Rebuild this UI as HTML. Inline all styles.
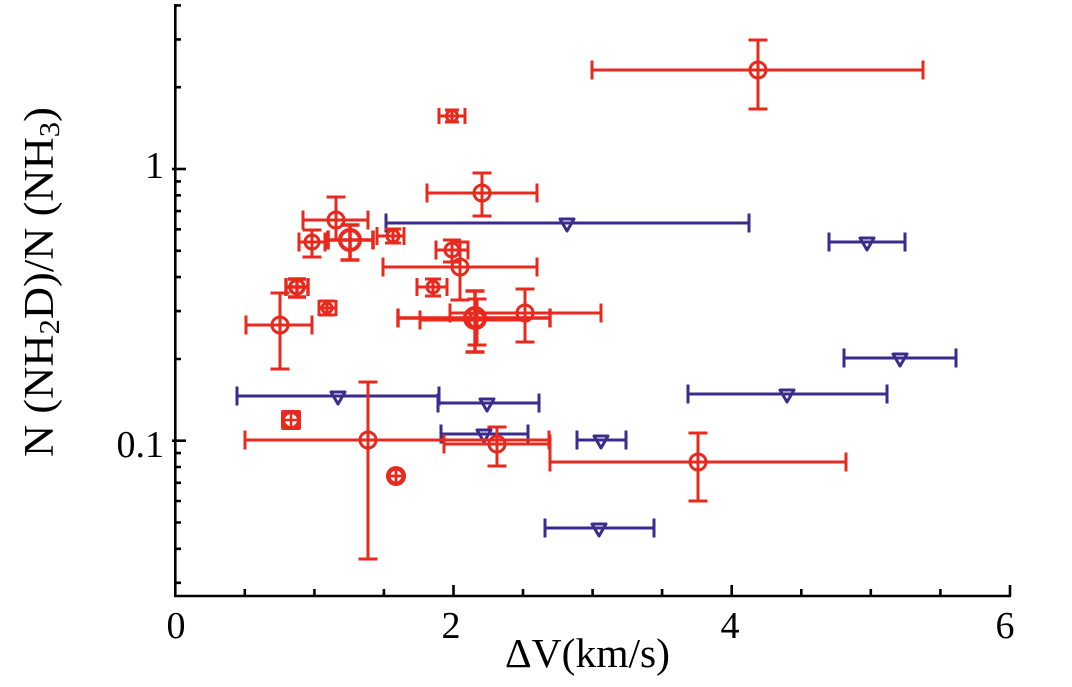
<!DOCTYPE html>
<html><head><meta charset="utf-8"><style>
html,body{margin:0;padding:0;background:#fff;}
svg{display:block;}
</style></head><body>
<svg width="1072" height="687" viewBox="0 0 1072 687" xmlns="http://www.w3.org/2000/svg">
<rect width="1072" height="687" fill="#fff"/>
<!-- axes -->
<g stroke="#000" stroke-width="2.6" fill="none">
<line x1="175.3" y1="4" x2="175.3" y2="597"/>
<line x1="174" y1="596" x2="1011" y2="596"/>
<!-- y major -->
<line x1="172" y1="169" x2="186" y2="169"/>
<line x1="172" y1="440.7" x2="186" y2="440.7"/>
<!-- y minor -->
<path d="M175 5.4h6M175 39.4h6M175 87.2h6M175 181.4h6M175 195.3h6M175 211.1h6M175 229.3h6M175 250.8h6M175 277.1h6M175 311.1h6M175 359h6M175 453.1h6M175 467h6M175 482.8h6M175 501h6M175 522.5h6M175 548.8h6M175 582.8h6"/>
<!-- x major -->
<path d="M453.5 596v-11M731.7 596v-11M1010 596v-11"/>
<!-- x minor -->
<path d="M244.8 596v-7M314.4 596v-7M383.9 596v-7M523 596v-7M592.6 596v-7M662.1 596v-7M801.3 596v-7M870.8 596v-7M940.4 596v-7"/>
</g>
<!-- tick labels -->
<g font-family="Liberation Serif, serif" font-size="38" fill="#000">
<text x="176" y="638" text-anchor="middle">0</text>
<text x="451" y="638" text-anchor="middle">2</text>
<text x="730" y="638" text-anchor="middle">4</text>
<text x="1005" y="638" text-anchor="middle">6</text>
<text x="164" y="178" text-anchor="end">1</text>
<text x="164" y="457" text-anchor="end">0.1</text>
</g>
<!-- axis titles -->
<text x="505" y="667" font-family="Liberation Serif, serif" font-size="41" textLength="165" lengthAdjust="spacingAndGlyphs">ΔV(km/s)</text>
<text transform="translate(53,457) rotate(-90)" font-family="Liberation Serif, serif" font-size="42" textLength="350" lengthAdjust="spacingAndGlyphs">N (NH<tspan font-size="29" dy="6">2</tspan><tspan dy="-6">D)/N (NH</tspan><tspan font-size="29" dy="6">3</tspan><tspan dy="-6">)</tspan></text>

<!-- blue upper limits -->
<g stroke="#3a2b8d" stroke-width="3" fill="none">
<path d="M386 223H749M386 213.5v19M749 213.5v19"/>
<path d="M829 242H905M829 232.5v19M905 232.5v19"/>
<path d="M844 358H956M844 348.5v19M956 348.5v19"/>
<path d="M237 396H439M237 386.5v19M439 386.5v19"/>
<path d="M438 403H539M438 393.5v19M539 393.5v19"/>
<path d="M688 394H887M688 384.5v19M887 384.5v19"/>
<path d="M441 434H528M441 424.5v19M528 424.5v19"/>
<path d="M577 440H626M577 430.5v19M626 430.5v19"/>
<path d="M545 528H654M545 518.5v19M654 518.5v19"/>
<g stroke-linejoin="round">
<polygon points="560,219 574,219 567,231"/>
<polygon points="860,238 874,238 867,250"/>
<polygon points="893,354 907,354 900,366"/>
<polygon points="331,392 345,392 338,404"/>
<polygon points="480,399 494,399 487,411"/>
<polygon points="780,390 794,390 787,402"/>
<polygon points="477,430 491,430 484,442"/>
<polygon points="594,436 608,436 601,448"/>
<polygon points="592,524 606,524 599,536"/>
</g>
</g>

<!-- red points -->
<g stroke="#e8291d" stroke-width="3" fill="none">
<!-- 1 -->
<path d="M592 70H923M592 60.5v19M923 60.5v19M758 40V109M748.5 40h19M748.5 109h19"/><circle cx="758" cy="70" r="8"/>
<!-- 2 -->
<path d="M439 116H465M439 108v16M465 108v16M452 110V122M445 110h14M445 122h14"/><circle cx="452" cy="116" r="5.5"/>
<!-- 3 -->
<path d="M427 193H537M427 183.5v19M537 183.5v19M482 173V216M472.5 173h19M472.5 216h19"/><circle cx="482" cy="193" r="8"/>
<!-- 4 -->
<path d="M303 220H368M303 210.5v19M368 210.5v19M336 197V240M326.5 197h19M326.5 240h19"/><circle cx="336" cy="220" r="8"/>
<!-- 5 -->
<path d="M299 242H325M299 232.5v19M325 232.5v19M312 230V257M302.5 230h19M302.5 257h19"/><circle cx="312" cy="242" r="7"/>
<!-- 6 -->
<path d="M328 240H373M328 230.5v19M373 230.5v19M350 225V260M340.5 225h19M340.5 260h19" stroke-width="3.6"/><circle cx="350" cy="240" r="10" stroke-width="4"/>
<!-- 7 -->
<path d="M377 236H404M377 227v18M404 227v18M393 229V243M385 229h16M385 243h16"/><circle cx="393" cy="236" r="6"/>
<!-- 8 -->
<path d="M286 287H308M286 278v18M308 278v18M297 279V297M288 279h18M288 297h18" stroke-width="3.4"/><circle cx="297" cy="287" r="7" stroke-width="3.5"/>
<!-- 9 -->
<path d="M319 308H336M319 300v16M336 300v16M327 301V315M319 301h16M319 315h16"/><circle cx="327" cy="308" r="5"/>
<!-- 10 -->
<path d="M246 325H312M246 315.5v19M312 315.5v19M280 293V369M270.5 293h19M270.5 369h19"/><circle cx="280" cy="325" r="8"/>
<!-- 11 -->
<path d="M436 250H468M436 240.5v19M468 240.5v19M452 240V262M443 240h18M443 262h18"/><circle cx="452" cy="250" r="7"/>
<!-- 12 -->
<path d="M383 267H537M383 257.5v19M537 257.5v19M460 242V300M450.5 242h19M450.5 300h19"/><circle cx="460" cy="267" r="8"/>
<!-- 13 -->
<path d="M417 287H447M417 278v18M447 278v18M433 279V296M425 279h16M425 296h16"/><circle cx="433" cy="287" r="6"/>
<!-- C -->
<path d="M450 313H601M450 303.5v19M601 303.5v19M525 289V342M515.5 289h19M515.5 342h19"/><circle cx="525" cy="313" r="8"/>
<!-- B -->
<path d="M420 320H530M420 310.5v19M477 299V345M467.5 299h19M467.5 345h19"/><circle cx="477" cy="320" r="8"/>
<!-- A -->
<path d="M398 318H550M398 308.5v19M550 308.5v19M475 291V352M465.5 291h19M465.5 352h19" stroke-width="3.4"/><circle cx="475" cy="318" r="10" stroke-width="4"/>
<!-- 16 -->
<path d="M245 440H549M245 430.5v19M549 430.5v19M368 382V559M358.5 382h19M358.5 559h19"/><circle cx="368" cy="440" r="8"/>
<!-- 19 -->
<path d="M444 444H550M444 434.5v19M550 434.5v19M497 427V466M487.5 427h19M487.5 466h19"/><circle cx="497" cy="444" r="8"/>
<!-- 20 -->
<path d="M550 462H846M550 452.5v19M846 452.5v19M698 433V501M688.5 433h19M688.5 501h19"/><circle cx="698" cy="462" r="8"/>
</g>
<!-- filled markers -->
<rect x="281" y="410" width="20" height="20" rx="2" fill="#e8291d"/>
<circle cx="291" cy="420" r="6" fill="#fff"/>
<path d="M285 420h12M291 414v12" stroke="#e8291d" stroke-width="2.6"/>
<circle cx="396" cy="476" r="10" fill="#e8291d"/>
<circle cx="396" cy="476" r="5.5" fill="#fff"/>
<path d="M390 476h12M396 470v12" stroke="#e8291d" stroke-width="2.8"/>
</svg>
</body></html>
